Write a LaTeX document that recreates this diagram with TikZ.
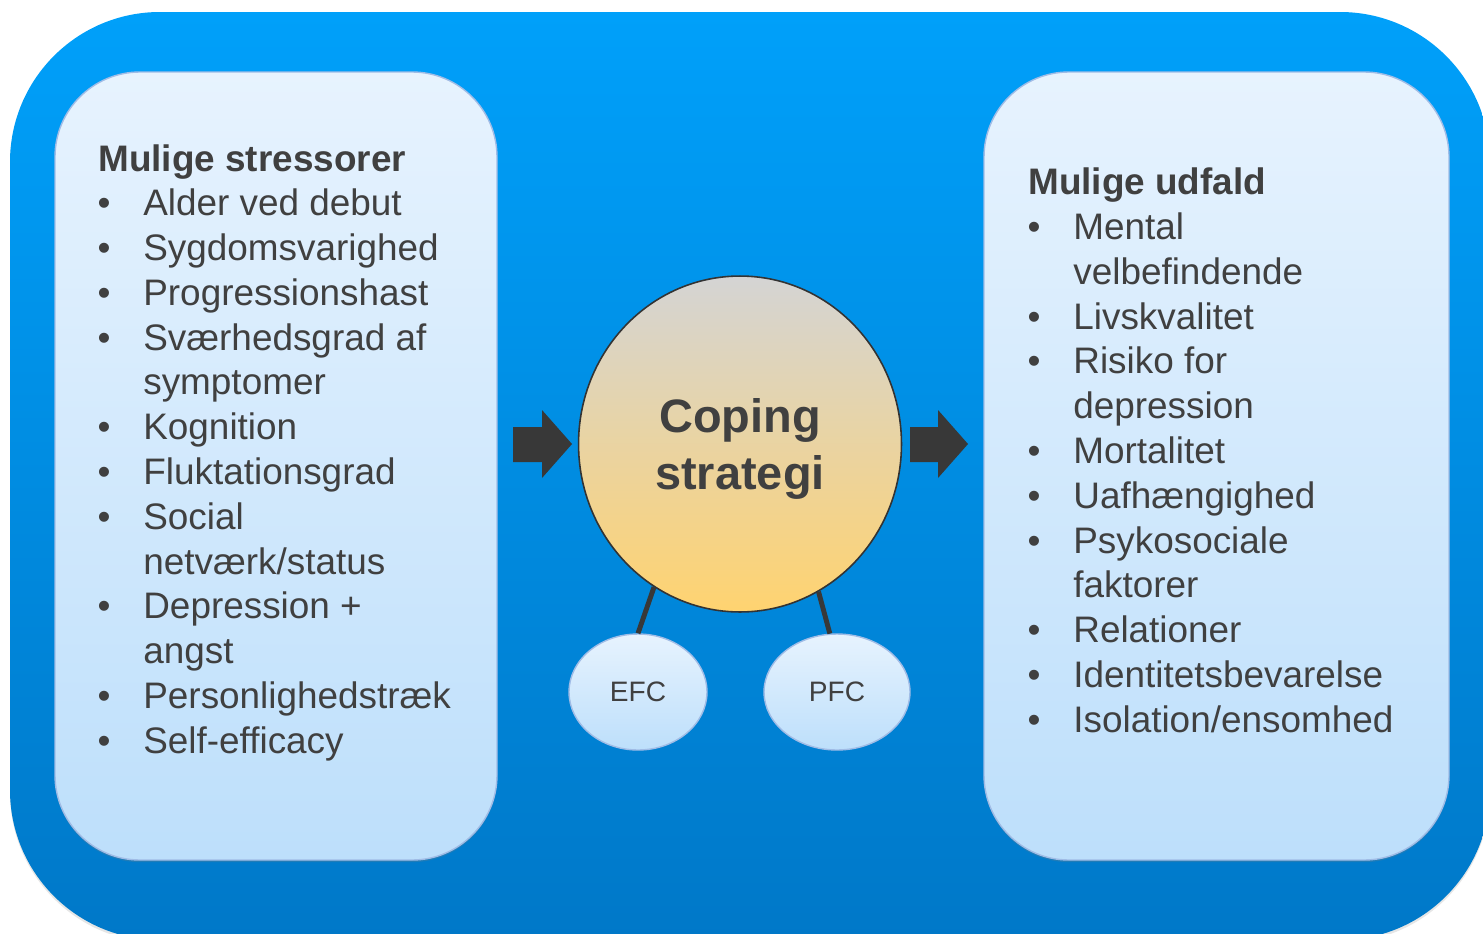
\documentclass[tikz,border=0pt]{standalone}
\usepackage{fontspec}
\setmainfont{Liberation Sans}
\usetikzlibrary{shapes.geometric, shadows}

\definecolor{frametop}{RGB}{0, 160, 250}
\definecolor{framebot}{RGB}{0, 120, 200}
\definecolor{paneltop}{RGB}{231, 243, 254}
\definecolor{panelbot}{RGB}{189, 223, 251}
\definecolor{paneledge}{RGB}{160, 188, 230}
\definecolor{inkgray}{RGB}{64, 64, 64}
\definecolor{arrowgray}{RGB}{56, 56, 56}
\definecolor{copetop}{RGB}{212, 212, 212}
\definecolor{copebot}{RGB}{255, 211, 112}

\tikzset{
  panel/.style={draw=paneledge, line width=0.8pt, top color=paneltop, bottom color=panelbot,
                rounded corners=1.7cm,
                drop shadow={opacity=0.25, shadow xshift=0pt, shadow yshift=-1.2pt}},
  listitem/.style={anchor=base west, inner sep=0pt, text=inkgray, font=\fontsize{21}{25}\selectfont},
  listhead/.style={listitem, font=\fontsize{21}{25}\selectfont\bfseries},
  bullet/.style={anchor=base, inner sep=0pt, text=inkgray, font=\fontsize{21}{25}\selectfont},
  subnode/.style={ellipse, draw=paneledge, line width=0.8pt, top color=paneltop, bottom color=panelbot,
                  minimum height=2.32cm, inner sep=0pt, text=inkgray, font=\fontsize{16}{19}\selectfont},
  blockarrow/.style={fill=arrowgray},
  stalk/.style={draw=arrowgray, line width=2.8pt}
}

\begin{document}
\begin{tikzpicture}[x=0.02cm, y=-0.02cm]
  \useasboundingbox (0,0) rectangle (1483,933);
  \clip (0,0) rectangle (1483,933);

  % outer frame
  \path[top color=frametop, bottom color=framebot, rounded corners=3cm,
        drop shadow={opacity=0.2, shadow xshift=0pt, shadow yshift=-1.5pt}]
    (10,12) rectangle (1490,940);

  % the two panels
  \path[panel] (55,72) rectangle (497,860);
  \path[panel] (984,72) rectangle (1449,860);

  % stressors
  \node[listhead] (sthead) at (98,171) {Mulige stressorer};
  \foreach \txt [count=\i from 0] in {Alder ved debut, Sygdomsvarighed, Progressionshast,
      Sværhedsgrad af, symptomer, Kognition, Fluktationsgrad, Social, netværk/status,
      Depression +, angst, Personlighedstræk, Self-efficacy}
    \node[listitem] (st\i) at (143, 215.6+44.8*\i) {\txt};
  \foreach \i in {0,1,2,3,5,6,7,9,11,12}
    \node[bullet] (sb\i) at (104, 215.6+44.8*\i) {•};

  % outcomes
  \node[listhead] (udhead) at (1028,194.5) {Mulige udfald};
  \foreach \txt [count=\i from 0] in {Mental, velbefindende, Livskvalitet, Risiko for,
      depression, Mortalitet, Uafhængighed, Psykosociale, faktorer, Relationer,
      Identitetsbevarelse, Isolation/ensomhed}
    \node[listitem] (ud\i) at (1073, 239.4+44.8*\i) {\txt};
  \foreach \i in {0,2,3,5,6,7,9,10,11}
    \node[bullet] (ub\i) at (1034, 239.4+44.8*\i) {•};

  % block arrows
  \path[blockarrow] (513,427) -- (542,427) -- (542,410) -- (572,444)
    -- (542,478) -- (542,462) -- (513,462) -- cycle;
  \path[blockarrow] (910,427) -- (938,427) -- (938,410) -- (968,444)
    -- (938,478) -- (938,462) -- (910,462) -- cycle;

  % coping strategy
  \node[ellipse, draw=black!80, line width=0.9pt, top color=copetop, bottom color=copebot,
        minimum width=6.46cm, minimum height=6.72cm, inner sep=0pt, align=center,
        text height=2.0cm,
        text=inkgray, font=\fontsize{26.7}{32.4}\selectfont\bfseries]
    (coping) at (740,444) {Coping\\strategi};

  \node[subnode, minimum width=2.76cm] (efc) at (638,692) {EFC};
  \node[subnode, minimum width=2.92cm] (pfc) at (837,692) {PFC};

  \draw[stalk] (coping.239) -- (efc.north);
  \draw[stalk] (coping.298) -- (pfc.97);
\end{tikzpicture}
\end{document}
